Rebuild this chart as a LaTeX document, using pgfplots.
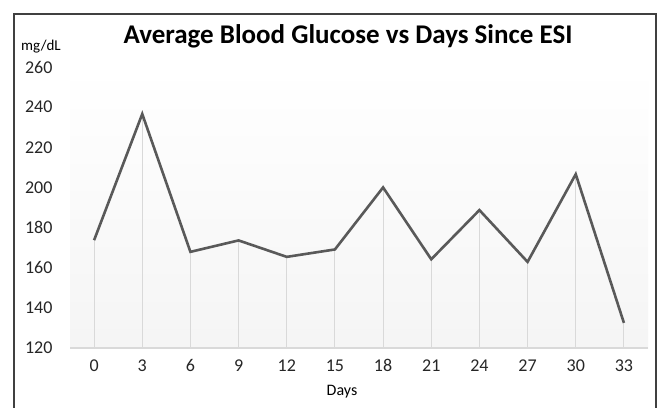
\documentclass[border=0pt]{standalone}
\usepackage{pgfplots}
\pgfplotsset{compat=1.18}
\usepackage{fontspec}
\setmainfont{Carlito}
\definecolor{linegray}{HTML}{595959}
\definecolor{dropgray}{HTML}{D9D9D9}
\definecolor{bordergray}{HTML}{404040}
\begin{document}
\begin{tikzpicture}[x=1pt,y=1pt]
\useasboundingbox (0,0) rectangle (661,407);
\fill[white] (0,0) rectangle (661,407);
\draw[bordergray, line width=1.2pt] (14,-2) -- (14,393) -- (656,393) -- (656,-2);
\begin{axis}[
  at={(70pt,59pt)}, anchor=south west,
  scale only axis, width=578pt, height=281pt,
  xmin=-1.5, xmax=34.5, ymin=120, ymax=260,
  xtick={0,3,...,33}, ytick={120,140,...,260},
  axis y line*=left,
  y axis line style={draw=none},
  axis x line*=bottom,
  x axis line style={dropgray, line width=1.2pt, -},
  major tick length=0pt,
  tick label style={font=\fontsize{18}{21}\selectfont, text=black!85},
  xticklabel style={anchor=base, yshift=-23pt},
  yticklabel style={xshift=-14pt},
  axis background/.style={shade, top color=white, bottom color=gray!8, shading angle=0},
  clip=false,
  /pgf/number format/assume math mode=true,
]
\addplot[ycomb, dropgray, line width=1pt, mark=none] coordinates {
(0,173.7) (3,236.6) (6,167.9) (9,173.6) (12,165.4) (15,169.1) (18,200) (21,164.2) (24,188.7) (27,162.9) (30,206.6) (33,132.5)
};
\addplot[linegray, line width=2.6pt, mark=none, line join=miter] coordinates {
(0,173.7) (3,236.6) (6,167.9) (9,173.6) (12,165.4) (15,169.1) (18,200) (21,164.2) (24,188.7) (27,162.9) (30,206.6) (33,132.5)
};
\end{axis}
\node[font=\bfseries\fontsize{27}{32}\selectfont, anchor=base] at (348,363) {Average Blood Glucose vs Days Since ESI};
\node[font=\fontsize{15}{18}\selectfont] at (41,360) {mg/dL};
\node[font=\fontsize{16}{19}\selectfont] at (342,15) {Days};
\end{tikzpicture}
\end{document}
